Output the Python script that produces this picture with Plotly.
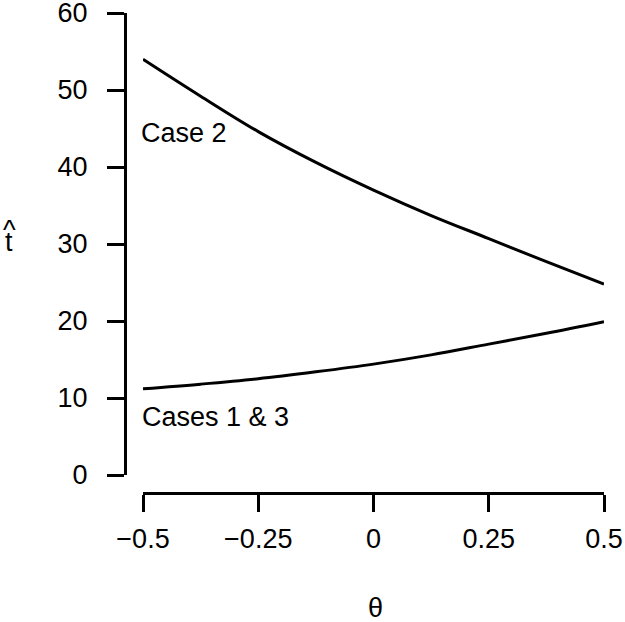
import plotly.graph_objects as go

theta = [-0.5, -0.375, -0.25, -0.125, 0.0, 0.125, 0.25, 0.375, 0.5]
case2 = [54.0, 49.2, 44.6, 40.6, 37.0, 33.7, 30.7, 27.7, 24.8]
case13 = [11.2, 11.8, 12.5, 13.4, 14.4, 15.6, 17.0, 18.4, 19.9]
xtick_vals = [-0.5, -0.25, 0, 0.25, 0.5]
xtick_text = ["\u22120.5", "\u22120.25", "0", "0.25", "0.5"]
ytick_vals = [0, 10, 20, 30, 40, 50, 60]

W, H = 625, 622
font = dict(family="Liberation Sans, Arial, sans-serif", size=27, color="black")

fig = go.Figure()
for ys in (case2, case13):
    fig.add_trace(go.Scatter(x=theta, y=ys, mode="lines", line_shape="spline",
                             line=dict(color="black", width=3), showlegend=False,
                             hoverinfo="skip"))

fig.add_annotation(x=-0.5, y=44.4, xshift=-4, text="Case 2", showarrow=False,
                   xanchor="left", yanchor="middle", font=font)
fig.add_annotation(x=-0.5, y=7.5, xshift=-3, text="Cases 1 &amp; 3", showarrow=False,
                   xanchor="left", yanchor="middle", font=font)
fig.add_annotation(x=375 / W, y=1 - 608 / H, xref="paper", yref="paper", text="\u03b8",
                   showarrow=False, xanchor="center", yanchor="middle", font=font)
fig.add_annotation(x=9 / W, y=1 - 242 / H, xref="paper", yref="paper", text="t",
                   showarrow=False, xanchor="center", yanchor="middle", font=font)
fig.add_annotation(x=9 / W, y=1 - 230 / H, xref="paper", yref="paper", text="^",
                   showarrow=False, xanchor="center", yanchor="middle", font=font)

fig.update_layout(
    width=W, height=H,
    margin=dict(l=0, r=0, t=0, b=0),
    paper_bgcolor="white", plot_bgcolor="white",
    font=font,
    xaxis=dict(domain=[143 / W, 604 / W], range=[-0.5, 0.5], anchor="free",
               position=1 - 493 / H, showgrid=False, zeroline=False,
               showline=True, linecolor="black", linewidth=3,
               ticks="outside", ticklen=17, tickwidth=3, tickcolor="black",
               tickvals=xtick_vals, ticktext=xtick_text, ticklabelstandoff=4,
               tickfont=font, ticklabeloverflow="allow", automargin=False),
    yaxis=dict(domain=[1 - 475 / H, 1 - 13 / H], range=[0, 60], anchor="free",
               position=125 / W, showgrid=False, zeroline=False,
               showline=True, linecolor="black", linewidth=3,
               ticks="outside", ticklen=17, tickwidth=3, tickcolor="black",
               tickvals=ytick_vals, ticklabelstandoff=14,
               tickfont=font, ticklabeloverflow="allow", automargin=False),
)

fig.write_html("out.html", config={"displayModeBar": False},
               post_script="document.body.style.margin='0';document.body.style.padding='0';")
